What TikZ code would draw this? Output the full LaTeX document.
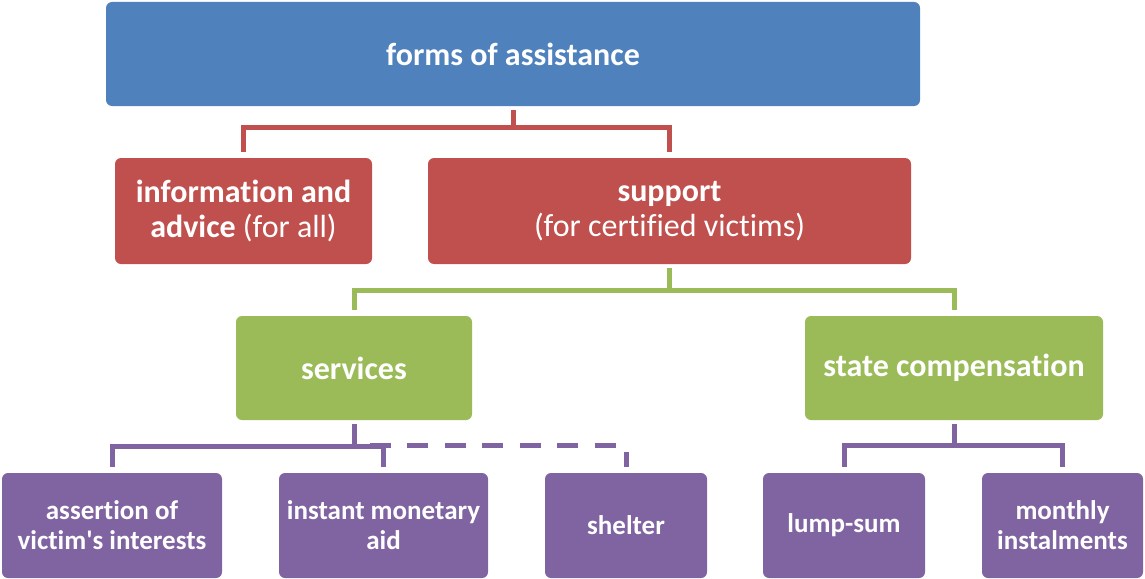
\documentclass[tikz,border=0pt]{standalone}
\usepackage{fontspec}
\setmainfont{Carlito}[Ligatures=NoCommon]
\usepackage{tikz}
\usetikzlibrary{calc}

\definecolor{boxblue}{HTML}{4F81BD}
\definecolor{boxred}{HTML}{C0504D}
\definecolor{boxgreen}{HTML}{9BBB59}
\definecolor{boxpurple}{HTML}{8064A2}

\tikzset{
    box/.style={rectangle,rounded corners=6pt,inner sep=0pt,text=white,align=center,font=\bfseries\fontsize{32}{35}\selectfont},
    smallbox/.style={box,fill=boxpurple,minimum height=105pt,font=\bfseries\fontsize{27}{30}\selectfont},
    link/.style={line width=5pt,line join=miter,shorten <=4pt,shorten >=6pt}
}

\begin{document}
\begin{tikzpicture}[x=1pt,y=-1pt]
    \useasboundingbox (0,0) rectangle (1145,578);

    % Top level
    \node[box,fill=boxblue,minimum width=814pt,minimum height=104pt] (forms) at (513,54) {forms of assistance};

    % Second level
    \node[box,fill=boxred,minimum width=257pt,minimum height=106pt] (info) at (243.5,211) {information and\\advice \mdseries(for all)};
    \node[box,fill=boxred,minimum width=483pt,minimum height=106pt] (support) at (669.5,211) {support\\\mdseries(for certified victims)};

    % Third level
    \node[box,fill=boxgreen,minimum width=236pt,minimum height=104pt] (services) at (354,368) {services};
    \node[box,fill=boxgreen,minimum width=298pt,minimum height=104pt] (compensation) at (954,368) {state compensation};

    % Bottom level
    \node[smallbox,minimum width=220pt] (assertion) at (112,525.5) {assertion of\\victim\textquotesingle s interests};
    \node[smallbox,minimum width=209pt] (monetary) at (383.5,525.5) {instant monetary\\aid};
    \node[smallbox,minimum width=162pt] (shelter) at (626,525.5) {shelter};
    \node[smallbox,minimum width=162pt] (lumpsum) at (844,525.5) {lump-sum};
    \node[smallbox,minimum width=161pt] (monthly) at (1062.5,525.5) {monthly\\instalments};

    % Connectors
    \draw[link,boxred] (forms.south) -- ++(0,21) -| (info.north);
    \draw[link,boxred] (forms.south) -- ++(0,21) -| (support.north);
    \draw[link,boxgreen] (support.south) -- ++(0,26) -| (services.north);
    \draw[link,boxgreen] (support.south) -- ++(0,26) -| (compensation.north);
    \draw[link,boxpurple] (services.south) -- ++(0,26) -| (assertion.north);
    \draw[link,boxpurple] (services.south) -- ++(0,26) -| (monetary.north);
    \draw[link,boxpurple,shorten <=6pt,shorten >=4pt,dash pattern=on 21pt off 16.5pt,dash phase=6pt] (shelter.north) -- ++(0,-27) -| (services.south);
    \draw[link,boxpurple] (compensation.south) -- ++(0,25) -| (lumpsum.north);
    \draw[link,boxpurple] (compensation.south) -- ++(0,25) -| (monthly.north);
\end{tikzpicture}
\end{document}
